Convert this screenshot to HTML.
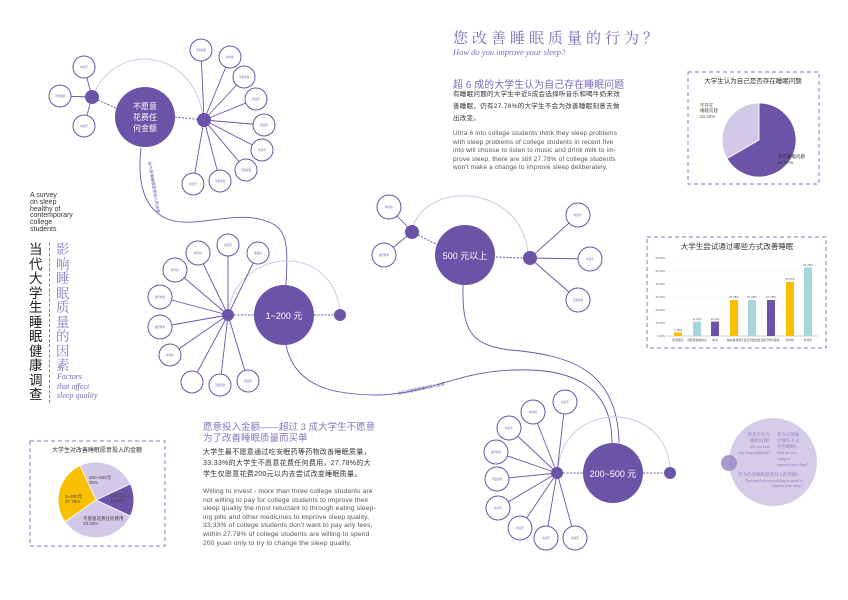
<!DOCTYPE html>
<html><head><meta charset="utf-8"><style>
html,body{margin:0;padding:0;background:#fff;}
body{width:848px;height:600px;overflow:hidden;position:relative;font-family:"Liberation Sans","Noto Sans CJK SC",sans-serif;}
svg{position:absolute;left:0;top:0;}
.t{position:absolute;white-space:nowrap;}
</style></head><body>
<svg width="848" height="600" viewBox="0 0 848 600" font-family="Liberation Sans, Noto Sans CJK SC, sans-serif">
<defs>
<style>
.s{fill:#fff;stroke:#6b54a7;stroke-width:1;}
.l{stroke:#6b54a7;stroke-width:0.9;fill:none;}
.la{stroke:#d0c8e8;stroke-width:1;fill:none;}
.d{stroke:#6b54a7;stroke-width:1;stroke-dasharray:2,1.5;fill:none;}
.hub{fill:#6b54a7;}
.tx{font-size:2.6px;fill:#6b54a7;text-anchor:middle;}
</style>
</defs>
<!-- flowing curves -->
<path class="l" d="M141,148 C138,175 140,205 165,218 C195,232 240,205 275,225 C290,235 287,260 286,285"/>
<path class="l" d="M286,345 C295,390 340,395 380,395 C440,392 460,368 530,370 C590,372 612,400 612,443"/>
<path class="l" d="M463,285 C462,330 470,345 510,350 C570,355 618,370 619,443"/>
<text font-size="4" fill="#6b54a7" transform="translate(148,162) rotate(80)">你为改善睡眠愿意投入的金额</text>
<text font-size="4" fill="#6b54a7" transform="translate(398,395) rotate(-12)">你们对睡眠质量的投入金额</text>

<!-- cluster 1 -->
<path class="la" d="M95,92 C115,45 190,45 203,115"/>
<line class="d" x1="98" y1="100" x2="116" y2="108"/>
<line class="d" x1="175" y1="117" x2="204" y2="120"/>
<line class="l" x1="92" y1="97" x2="84" y2="67"/><line class="l" x1="92" y1="97" x2="60" y2="96"/><line class="l" x1="92" y1="97" x2="84" y2="126"/>
<circle class="s" cx="84" cy="67" r="11"/><circle class="s" cx="60" cy="96" r="11"/><circle class="s" cx="84" cy="126" r="11"/>
<g>
<line class="l" x1="204" y1="120" x2="201" y2="50"/><line class="l" x1="204" y1="120" x2="230" y2="57"/><line class="l" x1="204" y1="120" x2="244" y2="77"/><line class="l" x1="204" y1="120" x2="256" y2="99"/><line class="l" x1="204" y1="120" x2="264" y2="125"/><line class="l" x1="204" y1="120" x2="262" y2="150"/><line class="l" x1="204" y1="120" x2="246" y2="170"/><line class="l" x1="204" y1="120" x2="220" y2="181"/><line class="l" x1="204" y1="120" x2="193" y2="184"/>
<circle class="s" cx="201" cy="50" r="11"/><circle class="s" cx="230" cy="57" r="11"/><circle class="s" cx="244" cy="77" r="11"/><circle class="s" cx="256" cy="99" r="11"/><circle class="s" cx="264" cy="125" r="11"/><circle class="s" cx="262" cy="150" r="11"/><circle class="s" cx="246" cy="170" r="11"/><circle class="s" cx="220" cy="181" r="11"/><circle class="s" cx="193" cy="184" r="11"/>
</g>
<circle class="hub" cx="92" cy="97" r="7"/><circle class="hub" cx="204" cy="120" r="7"/>
<circle class="hub" cx="145" cy="117" r="30"/>
<text x="145" y="109" font-size="8" fill="#fff" text-anchor="middle">不愿意</text>
<text x="145" y="120" font-size="8" fill="#fff" text-anchor="middle">花费任</text>
<text x="145" y="131" font-size="8" fill="#fff" text-anchor="middle">何金额</text>
<text class="tx" x="84" y="68">听音乐</text><text class="tx" x="60" y="97">不会刻意</text><text class="tx" x="84" y="127">听音乐</text>
<text class="tx" x="201" y="51">不会刻意</text><text class="tx" x="230" y="58">喝牛奶</text><text class="tx" x="244" y="78">不会刻意</text><text class="tx" x="256" y="100">听音乐</text><text class="tx" x="264" y="126">听音乐</text><text class="tx" x="262" y="151">听音乐</text><text class="tx" x="246" y="171">不会刻意</text><text class="tx" x="220" y="182">不会刻意</text><text class="tx" x="193" y="185">听音乐</text>

<!-- cluster 2 -->
<path class="la" d="M229,308 C240,250 330,240 340,310"/>
<line class="d" x1="234" y1="315" x2="254" y2="315"/>
<line class="d" x1="314" y1="315" x2="340" y2="315"/>
<g>
<line class="l" x1="228" y1="315" x2="198" y2="253"/><line class="l" x1="228" y1="315" x2="228" y2="245"/><line class="l" x1="228" y1="315" x2="258" y2="253"/><line class="l" x1="228" y1="315" x2="175" y2="270"/><line class="l" x1="228" y1="315" x2="160" y2="297"/><line class="l" x1="228" y1="315" x2="160" y2="327"/><line class="l" x1="228" y1="315" x2="170" y2="355"/><line class="l" x1="228" y1="315" x2="192" y2="382"/><line class="l" x1="228" y1="315" x2="220" y2="385"/><line class="l" x1="228" y1="315" x2="248" y2="381"/>
<circle class="s" cx="198" cy="253" r="12"/><circle class="s" cx="228" cy="245" r="11"/><circle class="s" cx="258" cy="253" r="11"/><circle class="s" cx="175" cy="270" r="12"/><circle class="s" cx="160" cy="297" r="12"/><circle class="s" cx="160" cy="327" r="12"/><circle class="s" cx="170" cy="355" r="11"/><circle class="s" cx="192" cy="382" r="11"/><circle class="s" cx="220" cy="385" r="11"/><circle class="s" cx="248" cy="381" r="11"/>
</g>
<circle class="hub" cx="228" cy="315" r="6"/><circle class="hub" cx="340" cy="315" r="6"/>
<circle class="hub" cx="284" cy="315" r="30"/>
<text x="284" y="319" font-size="9" fill="#fff" text-anchor="middle">1~200 元</text>
<text class="tx" x="198" y="254">喝牛奶</text><text class="tx" x="228" y="246">听音乐</text><text class="tx" x="258" y="254">做运动</text><text class="tx" x="175" y="271">喝牛奶</text><text class="tx" x="160" y="298">进行体育</text><text class="tx" x="160" y="328">进行体育</text><text class="tx" x="170" y="356">喝牛奶</text><text class="tx" x="220" y="386">不会刻意</text><text class="tx" x="248" y="382">听音乐</text>

<!-- cluster 3 -->
<path class="la" d="M413,226 C430,180 520,185 528,252"/>
<line class="d" x1="418" y1="235" x2="438" y2="245"/>
<line class="d" x1="496" y1="257" x2="524" y2="258"/>
<line class="l" x1="412" y1="232" x2="389" y2="207"/><line class="l" x1="412" y1="232" x2="384" y2="255"/>
<circle class="s" cx="389" cy="207" r="12"/><circle class="s" cx="384" cy="255" r="12"/>
<line class="l" x1="530" y1="258" x2="578" y2="215"/><line class="l" x1="530" y1="258" x2="590" y2="259"/><line class="l" x1="530" y1="258" x2="578" y2="300"/>
<circle class="s" cx="578" cy="215" r="12"/><circle class="s" cx="590" cy="259" r="12"/><circle class="s" cx="578" cy="300" r="12"/>
<circle class="hub" cx="412" cy="232" r="7"/><circle class="hub" cx="530" cy="258" r="7"/>
<circle class="hub" cx="465" cy="255" r="30"/>
<text x="465" y="259" font-size="9" fill="#fff" text-anchor="middle">500 元以上</text>
<text class="tx" x="389" y="208">喝牛奶</text><text class="tx" x="384" y="256">进行体育</text><text class="tx" x="578" y="216">听音乐</text><text class="tx" x="590" y="260">听音乐</text><text class="tx" x="578" y="301">不会刻意</text>

<!-- cluster 4 -->
<path class="la" d="M558,468 C565,400 665,400 670,468"/>
<line class="d" x1="563" y1="473" x2="583" y2="473"/>
<line class="d" x1="643" y1="473" x2="665" y2="473"/>
<g>
<line class="l" x1="557" y1="473" x2="565" y2="402"/><line class="l" x1="557" y1="473" x2="533" y2="412"/><line class="l" x1="557" y1="473" x2="509" y2="428"/><line class="l" x1="557" y1="473" x2="496" y2="452"/><line class="l" x1="557" y1="473" x2="497" y2="479"/><line class="l" x1="557" y1="473" x2="498" y2="508"/><line class="l" x1="557" y1="473" x2="520" y2="528"/><line class="l" x1="557" y1="473" x2="546" y2="538"/><line class="l" x1="557" y1="473" x2="575" y2="538"/>
<circle class="s" cx="565" cy="402" r="12"/><circle class="s" cx="533" cy="412" r="12"/><circle class="s" cx="509" cy="428" r="12"/><circle class="s" cx="496" cy="452" r="12"/><circle class="s" cx="497" cy="479" r="12"/><circle class="s" cx="498" cy="508" r="12"/><circle class="s" cx="520" cy="528" r="12"/><circle class="s" cx="546" cy="538" r="12"/><circle class="s" cx="575" cy="538" r="12"/>
</g>
<circle class="hub" cx="557" cy="473" r="6"/><circle class="hub" cx="670" cy="473" r="6"/>
<circle class="hub" cx="613" cy="473" r="30"/>
<text x="613" y="477" font-size="9" fill="#fff" text-anchor="middle">200~500 元</text>
<text class="tx" x="565" y="403">听音乐</text><text class="tx" x="533" y="413">喝牛奶</text><text class="tx" x="509" y="429">听音乐</text><text class="tx" x="496" y="453">进行体育</text><text class="tx" x="497" y="480">不会刻意</text><text class="tx" x="498" y="509">听音乐</text><text class="tx" x="520" y="529">听音乐</text><text class="tx" x="546" y="539">听音乐</text><text class="tx" x="575" y="539">听音乐</text>

<!-- question circle -->
<circle cx="773" cy="462" r="44" fill="#d5cce8"/>
<circle cx="729" cy="463" r="8" fill="#9b88c8" opacity="0.85"/>
<g font-family="Liberation Serif, Noto Serif CJK SC, serif" fill="#8a77bd" font-size="4.5">
<text x="770" y="436" text-anchor="end">您是否存在</text><text x="770" y="442" text-anchor="end">睡眠问题?</text>
<text x="770" y="448" text-anchor="end" font-style="italic" font-size="3.8">Do you have</text><text x="770" y="454" text-anchor="end" font-style="italic" font-size="3.8">any sleep problems?</text>
<text x="777" y="436">您有试图通</text><text x="777" y="442">过哪些方式</text><text x="777" y="448">改善睡眠?</text>
<text x="777" y="454" font-style="italic" font-size="3.8">How are you</text><text x="777" y="460" font-style="italic" font-size="3.8">trying to</text><text x="777" y="466" font-style="italic" font-size="3.8">improve your sleep?</text>
<text x="738" y="476">您为改善睡眠愿意投入的金额?</text>
<text x="803" y="482" text-anchor="end" font-style="italic" font-size="3.8">How much are you willing to spend to</text>
<text x="803" y="487" text-anchor="end" font-style="italic" font-size="3.8">improve your sleep?</text>
</g>

<!-- pie box 1 -->
<rect x="688" y="72" width="131" height="112" fill="none" stroke="#8a77bd" stroke-width="1" stroke-dasharray="4,3"/>
<text x="753" y="83" font-size="6.5" text-anchor="middle" fill="#333">大学生认为自己是否存在睡眠问题</text>
<path d="M759,140 L759,103 A37,37 0 1,1 727,158.5 Z" fill="#6b54a7" stroke="#fff" stroke-width="0.8"/>
<path d="M759,140 L727,158.5 A37,37 0 0,1 759,103 Z" fill="#d2c9e9" stroke="#fff" stroke-width="0.8"/>
<text x="700" y="107" font-size="4.5" fill="#555">不存在</text><text x="700" y="112" font-size="4.5" fill="#555">睡眠问题</text><text x="700" y="118" font-size="4.5" fill="#555">33.33%</text>
<text x="778" y="158" font-size="4.5" fill="#333">存在睡眠问题</text><text x="778" y="164" font-size="4.5" fill="#333">66.67%</text>

<!-- bar chart -->
<rect x="647" y="237" width="179" height="111" fill="none" stroke="#8a77bd" stroke-width="1" stroke-dasharray="4,3"/>
<text x="737" y="249" font-size="7.5" text-anchor="middle" fill="#333">大学生尝试通过哪些方式改善睡眠</text>
<g font-size="2.8" fill="#666" text-anchor="end">
<text x="665" y="259">60.00%</text><text x="665" y="272">50.00%</text><text x="665" y="285">40.00%</text><text x="665" y="298">30.00%</text><text x="665" y="311">20.00%</text><text x="665" y="324">10.00%</text><text x="665" y="337">0.00%</text>
</g>
<g stroke="#eee" stroke-width="0.4"><line x1="667" y1="258" x2="818" y2="258"/><line x1="667" y1="271" x2="818" y2="271"/><line x1="667" y1="284" x2="818" y2="284"/><line x1="667" y1="297" x2="818" y2="297"/><line x1="667" y1="310" x2="818" y2="310"/><line x1="667" y1="323" x2="818" y2="323"/></g>
<line x1="667" y1="336" x2="818" y2="336" stroke="#999" stroke-width="0.5"/>
<rect x="674" y="332.4" width="8" height="3.6" fill="#f8c000"/>
<rect x="693" y="321.6" width="8" height="14.4" fill="#a8d5dc"/>
<rect x="711" y="321.6" width="8" height="14.4" fill="#6b54a7"/>
<rect x="730" y="300" width="8" height="36" fill="#f8c000"/>
<rect x="748" y="300" width="8" height="36" fill="#a8d5dc"/>
<rect x="767" y="300" width="8" height="36" fill="#6b54a7"/>
<rect x="786" y="282" width="8" height="54" fill="#f8c000"/>
<rect x="804" y="267.4" width="8" height="68.6" fill="#a8d5dc"/>
<g font-size="2.8" fill="#555" text-anchor="middle">
<text x="678" y="331">2.78%</text><text x="697" y="320">11.11%</text><text x="715" y="320">11.11%</text><text x="734" y="298">27.78%</text><text x="752" y="298">27.78%</text><text x="771" y="298">27.78%</text><text x="790" y="280">41.67%</text><text x="808" y="266">52.78%</text>
<text x="678" y="341">吃安眠药</text><text x="697" y="341">调整床褥和枕头</text><text x="715" y="341">看书</text><text x="734" y="341">睡前看视频</text><text x="752" y="341">不会刻意做出改变</text><text x="771" y="341">进行体育锻炼</text><text x="790" y="341">喝牛奶</text><text x="808" y="341">听音乐</text>
</g>

<!-- pie box 2 -->
<rect x="30" y="441" width="135" height="105" fill="none" stroke="#8a77bd" stroke-width="1" stroke-dasharray="4,3"/>
<text x="97" y="452" font-size="6" text-anchor="middle" fill="#333">大学生对改善睡眠愿意投入的金额</text>
<g stroke="#fff" stroke-width="0.8">
<path d="M96,500 L80,465.6 A38,38 0 0,1 130.4,484 Z" fill="#d2c9e9"/>
<path d="M96,500 L130.4,484 A38,38 0 0,1 130.4,516 Z" fill="#6b54a7"/>
<path d="M96,500 L130.4,516 A38,38 0 0,1 64.9,521.8 Z" fill="#d2c9e9"/>
<path d="M96,500 L64.9,521.8 A38,38 0 0,1 80,465.6 Z" fill="#f8c000"/>
</g>
<g font-size="4.5" fill="#444">
<text x="89" y="479">200~500元</text><text x="89" y="484">25%</text>
<text x="110" y="497">500元以上</text><text x="110" y="502">13.89%</text>
<text x="65" y="498">1~200元</text><text x="65" y="503">27.78%</text>
<text x="83" y="520">不愿意花费任何费用</text><text x="83" y="525">33.33%</text>
</g>
</svg>

<div class="t" style="left:453px;top:27px;font-family:'Liberation Serif','Noto Serif CJK SC',serif;font-size:15px;letter-spacing:4px;color:#7e6bb8;">您改善睡眠质量的行为？</div>
<div class="t" style="left:453px;top:47px;font-family:'Liberation Serif',serif;font-style:italic;font-size:8.5px;color:#7e6bb8;">How do you improve your sleep?</div>
<div class="t" style="left:453px;top:76px;font-size:10px;color:#7e6bb8;">超 6 成的大学生认为自己存在睡眠问题</div>
<div class="t" style="left:453px;top:89px;font-size:6.5px;line-height:12px;color:#333;letter-spacing:0.3px;">有睡眠问题的大学生中近5成会选择听音乐和喝牛奶来改<br>善睡眠，仍有27.78%的大学生不会为改善睡眠刻意去做<br>出改变。</div>
<div class="t" style="left:453px;top:130px;font-size:6.4px;line-height:8.6px;color:#555;letter-spacing:0.2px;">Ultra 6 into college students think they sleep problems<br>with sleep problems of college students in recent five<br>into will choose to listen to music and drink milk to im-<br>prove sleep, there are still 27.78% of college students<br>won't make a change to improve sleep deliberately.</div>

<div class="t" style="left:30px;top:193px;font-size:7px;line-height:6.8px;color:#333;">A survey<br>on sleep<br>healthy of<br>contemporary<br>college<br>students</div>
<div class="t" style="left:29px;top:243px;font-size:13.5px;line-height:14.5px;color:#222;width:15px;white-space:normal;">当代大学生睡眠健康调查</div>
<div style="position:absolute;left:49px;top:243px;height:160px;border-left:1px dashed #8a77bd;"></div>
<div class="t" style="left:56px;top:243px;font-family:'Liberation Serif','Noto Serif CJK SC',serif;font-size:13.5px;line-height:14.5px;color:#8a77bd;width:15px;white-space:normal;">影响睡眠质量的因素</div>
<div class="t" style="left:57px;top:372px;font-family:'Liberation Serif',serif;font-style:italic;font-size:8px;line-height:9.5px;color:#7e6bb8;">Factors<br>that affect<br>sleep quality</div>

<div class="t" style="left:203px;top:422px;font-size:9.5px;line-height:11px;color:#8a77bd;">愿意投入金额——超过 3 成大学生不愿意<br>为了改善睡眠质量而买单</div>
<div class="t" style="left:203px;top:447px;font-size:7px;line-height:11px;color:#333;letter-spacing:0.3px;">大学生最不愿意通过吃安眠药等药物改善睡眠质量，<br>33.33%的大学生不愿意花费任何费用，27.78%的大<br>学生仅愿意花费200元以内去尝试改变睡眠质量。</div>
<div class="t" style="left:203px;top:488px;font-size:6.7px;line-height:8.6px;color:#555;letter-spacing:0.15px;">Willing to invest - more than three college students are<br>not willing to pay for college students to improve their<br>sleep quality the most reluctant to through eating sleep-<br>ing pills and other medicines to improve sleep quality,<br>33.33% of college students don't want to pay any fees,<br>within 27.78% of college students are willing to spend<br>200 yuan only to try to change the sleep quality.</div>
</body></html>
